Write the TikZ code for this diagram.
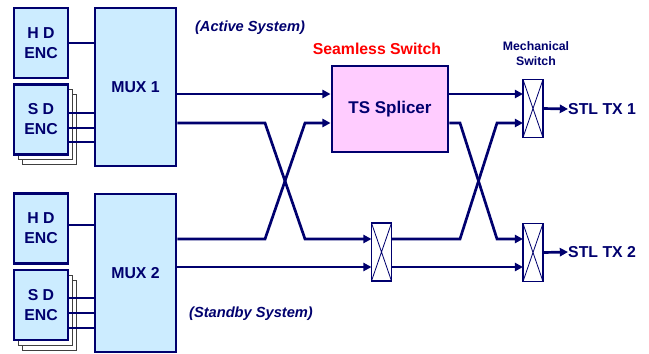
\documentclass[tikz,border=0pt]{standalone}
\usepackage{fontspec}
\setmainfont{Liberation Sans}
\usetikzlibrary{arrows.meta, calc}
\definecolor{navy}{RGB}{0,0,110}
\definecolor{boxblue}{RGB}{204,236,255}
\definecolor{splicepink}{RGB}{255,204,255}
\tikzset{
  enc box/.style={
    rectangle, draw=navy, line width=2.5pt, fill=boxblue,
    minimum width=1.62cm, minimum height=2.1cm,
    align=center, text=navy, inner sep=0pt,
    font=\fontsize{13.5}{17}\selectfont\bfseries
  },
  enc sheet/.style={
    rectangle, draw=black!75, line width=0.6pt, fill=white,
    minimum width=1.62cm, minimum height=2.1cm
  },
  mux box/.style={
    enc box, minimum width=2.43cm, minimum height=4.74cm
  },
  splice box/.style={
    enc box, fill=splicepink, minimum width=3.48cm, minimum height=2.58cm,
    font=\fontsize{14.5}{17}\selectfont\bfseries
  },
  sw box/.style={
    rectangle, draw=navy, line width=1.5pt, fill=white, outer sep=0pt,
    minimum width=0.6cm, minimum height=1.74cm, inner sep=0pt
  },
  link/.style={
    draw=navy, line width=2.3pt
  },
  link arrow/.style={
    link, -{Triangle[length=7pt,width=7pt]}
  },
  sys label/.style={
    text=navy, font=\fontsize{12.5}{15}\selectfont\bfseries\itshape
  },
  out label/.style={
    text=navy, anchor=west, inner sep=0pt,
    font=\fontsize{13.5}{16}\selectfont\bfseries
  }
}

\begin{document}
\begin{tikzpicture}[x=0.03cm, y=-0.03cm]
\useasboundingbox (0,0) rectangle (649,353);

% signal levels and bend columns
\coordinate (yA) at (0,94);
\coordinate (yB) at (0,123);
\coordinate (yC) at (0,239);
\coordinate (yD) at (0,267);
\coordinate (xA) at (265,0);
\coordinate (xB) at (305,0);
\coordinate (xC) at (460,0);
\coordinate (xD) at (497,0);

% ====== ACTIVE SYSTEM ======
\node[sys label] (active) at (250,28) {(Active System)};
\node[mux box] (mux1) at (135.5,87) {MUX 1};
\node[enc box] (hd1) at (41,43) {H D\\ENC};
\node[enc sheet] (sd1c) at (49,129.5) {};
\node[enc sheet] (sd1b) at (45,124.5) {};
\node[enc box] (sd1) at (41,119.5) {S D\\ENC};
\draw[link] (hd1.east) -- (hd1.east -| mux1.west);
\foreach \dy in {-6.5,8.5,22.5}
  \draw[link] ($(sd1.east)+(0,\dy)$) -- ($(sd1.east -| mux1.west)+(0,\dy)$);

% ====== STANDBY SYSTEM ======
\node[sys label] (standby) at (251,314) {(Standby System)};
\node[mux box] (mux2) at (135.5,273) {MUX 2};
\node[enc box] (hd2) at (41,228.5) {H D\\ENC};
\node[enc sheet] (sd2c) at (49,315) {};
\node[enc sheet] (sd2b) at (45,310) {};
\node[enc box] (sd2) at (41,305) {S D\\ENC};
\draw[link] ($(hd2.east)+(0,-3.5)$) -- ($(hd2.east -| mux2.west)+(0,-3.5)$);
\foreach \dy in {-7,8,23}
  \draw[link] ($(sd2.east)+(0,\dy)$) -- ($(sd2.east -| mux2.west)+(0,\dy)$);

% ====== SWITCHING ======
\node[font=\fontsize{13.5}{16}\selectfont\bfseries, text=red] (seamless) at (377,49) {Seamless Switch};
\node[splice box] (splicer) at (390,109) {TS Splicer};
\node[sw box] (msw) at (381.5,252) {};

\node[align=center, text=navy, font=\fontsize{10.5}{12.8}\selectfont\bfseries] (mech) at (536,54) {Mechanical\\Switch};
\node[sw box] (sw1) at (533,108.5) {};
\node[sw box] (sw2) at (533,252.5) {};
\foreach \s in {msw,sw1,sw2}
  \draw[navy, line width=0.7pt] (\s.north west) -- (\s.south east)
    (\s.north east) -- (\s.south west);

\node[out label] (tx1) at (568,109) {STL TX 1};
\node[out label] (tx2) at (568,252) {STL TX 2};

% -- MUX outputs --
\draw[link arrow] (mux1.east |- yA) -- (splicer.west |- yA);
\draw[link arrow] (mux1.east |- yB) -- (xA |- yB) -- (xB |- yC) -- (msw.west |- yC);
\draw[link arrow] (mux2.east |- yC) -- (xA |- yC) -- (xB |- yB) -- (splicer.west |- yB);
\draw[link arrow] (mux2.east |- yD) -- (msw.west |- yD);

% -- splicer and bypass outputs --
\draw[link arrow] (splicer.east |- yA) -- (sw1.west |- yA);
\draw[link arrow] (splicer.east |- yB) -- (xC |- yB) -- (xD |- yC) -- (sw2.west |- yC);
\draw[link arrow] (msw.east |- yC) -- (xC |- yC) -- (xD |- yB) -- (sw1.west |- yB);
\draw[link arrow] (msw.east |- yD) -- (sw2.west |- yD);

% -- transmitters --
\draw[link arrow] (sw1.east) -- (tx1.west);
\draw[link arrow] (sw2.east) -- (tx2.west);

\end{tikzpicture}
\end{document}
